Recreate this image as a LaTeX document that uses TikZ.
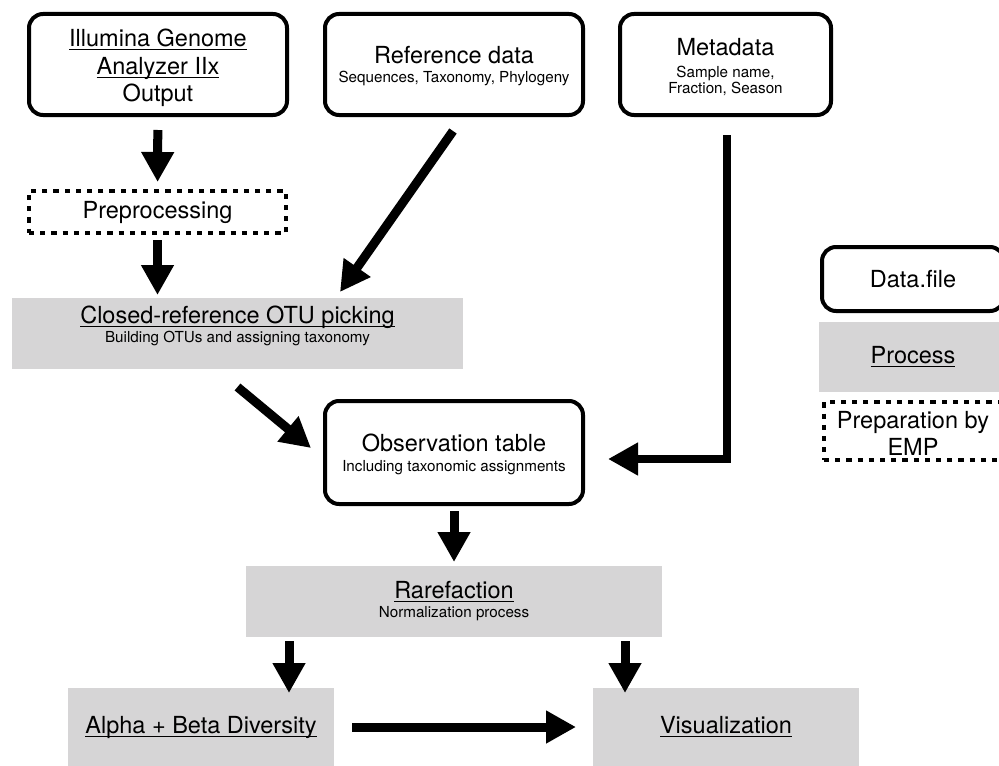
\documentclass[tikz,border=0pt]{standalone}
\usepackage{fontspec}
\setmainfont{TeX Gyre Heros}
\usetikzlibrary{arrows.meta,calc}
\definecolor{procGray}{RGB}{214,213,214}
\newcommand{\mainsz}{\fontsize{11.75}{13.75}\selectfont}
\newcommand{\smallsz}{\fontsize{7.6}{8.5}\selectfont}
\newcommand{\undl}[1]{\underline{\raisebox{0pt}[\height][0pt]{#1}}}
\tikzset{
  datafile/.style={draw, line width=2pt, rounded corners=7pt, fill=white, align=center, outer sep=0pt, inner sep=0pt, text depth=0pt, font=\smallsz},
  process/.style={fill=procGray, align=center, outer sep=0pt, inner sep=0pt, font=\smallsz},
  emp/.style={draw, line width=2pt, dash pattern=on 2.6pt off 3pt, align=center, outer sep=0pt, inner sep=0pt, font=\mainsz},
  flow/.style={-{Triangle[width=15.5pt,length=15pt]}, line width=4.5pt}
}

\begin{document}
\begin{tikzpicture}[x=0.5pt,y=-0.5pt]
  \useasboundingbox (0,0) rectangle (999,765);
  \clip (0,0) rectangle (999,765);

  % inputs
  \node[datafile, font=\mainsz, minimum width=129pt, minimum height=50.5pt] (illumina) at (158,64.5) {\rule{0pt}{10pt}\undl{Illumina Genome}\\\undl{Analyzer IIx}\\Output};
  \node[datafile, minimum width=129pt, minimum height=50.5pt] (refdata) at (454,64.5) {{\mainsz Reference data}\\[1pt]Sequences, Taxonomy, Phylogeny};
  \node[datafile, minimum width=105.5pt, minimum height=50.5pt] (metadata) at (725.5,64.5) {{\mainsz\rule{0pt}{10.5pt}Metadata}\\[2pt]Sample name,\\Fraction, Season};

  \node[emp, minimum width=128.5pt, minimum height=21pt] (preproc) at (157.5,212) {Preprocessing};
  \node[process, minimum width=225.5pt, minimum height=35.5pt] (closedref) at (237.5,333.5) {{\mainsz\undl{Closed-reference OTU picking}}\\[1pt]Building OTUs and assigning taxonomy\rule[-9pt]{0pt}{9pt}};
  \node[datafile, minimum width=129pt, minimum height=51.5pt] (obs) at (454,452.5) {{\mainsz Observation table}\\[1.5pt]Including taxonomic assignments};
  \node[process, minimum width=208pt, minimum height=35.5pt] (rare) at (454,601.5) {{\mainsz\undl{Rarefaction}}\\[1pt]Normalization process};
  \node[process, font=\mainsz, minimum width=133pt, minimum height=39pt] (alpha) at (201,727) {\undl{Alpha + Beta Diversity}};
  \node[process, font=\mainsz, minimum width=133pt, minimum height=39pt] (vis) at (726,727) {\undl{Visualization}};

  % legend
  \node[datafile, font=\mainsz, minimum width=91pt, minimum height=32pt] (legdata) at (913,279) {Data.file};
  \node[process, font=\mainsz, minimum width=94pt, minimum height=35pt] (legproc) at (913,357) {\undl{Process}};
  \node[emp, minimum width=89pt, minimum height=29pt] (legemp) at (913,431) {\rule{0pt}{11pt}Preparation by\\EMP};

  \draw[flow, shorten <=7.5pt, shorten >=4.5pt] (illumina) -- (preproc);
  \draw[flow, shorten <=3.5pt, shorten >=1.5pt] (preproc.south) -- (preproc.south |- closedref.north);
  \draw[flow] ($(refdata.south)+(-1,16)$) -- ($(closedref.north)+(102.5,-6)$);
  \draw[flow] ($(closedref.south)+(0,18)$) -- ($(obs.west)+(-14,-4.5)$);
  \draw[flow, line width=4pt] ($(metadata.south)+(1.5,20)$) |- ($(obs.east)+(25,6.5)$);
  \draw[flow, shorten <=3.5pt, shorten >=2pt] (obs) -- (rare);
  \draw[flow, shorten <=2pt, shorten >=-2.5pt] ($(rare.south west)+(43,0)$) -- ($(alpha.north)+(88,0)$);
  \draw[flow, shorten <=2pt, shorten >=-2.5pt] ($(rare.south east)+(-37,0)$) -- ($(vis.north)+(-101,0)$);
  \draw[flow, shorten <=9pt, shorten >=8.5pt] (alpha) -- (vis);
\end{tikzpicture}
\end{document}
